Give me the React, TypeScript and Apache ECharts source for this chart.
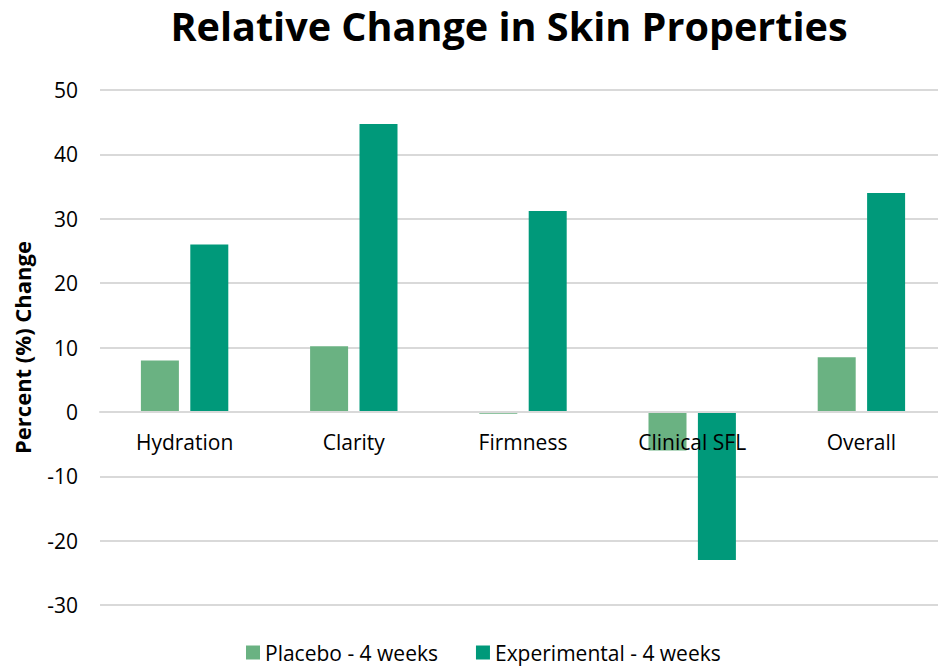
import React, { useEffect, useRef } from "react";
import * as echarts from "echarts";

const categories = ["Hydration", "Clarity", "Firmness", "Clinical SFL", "Overall"];
const placebo = [8.0, 10.2, -0.3, -6.0, 8.5];
const experimental = [26.0, 44.7, 31.2, -23.0, 34.0];
const seriesNames = ["Placebo - 4 weeks", "Experimental - 4 weeks"];
const yMin = -30;
const yMax = 50;

export default function App() {
  const ref = useRef<HTMLDivElement>(null);
  useEffect(() => {
    const chart = echarts.init(ref.current!, null, { renderer: "svg" });
    const font = "'Open Sans', 'Noto Sans', sans-serif";
    const gridTop = 90;
    const gridBottom = 62;
    const plotH = 667 - gridTop - gridBottom;
    const zeroOffset = -Math.round((plotH * (0 - yMin)) / (yMax - yMin));
    chart.setOption({
      animation: false,
      backgroundColor: "#ffffff",
      title: {
        text: "Relative Change in Skin Properties",
        left: 504,
        textAlign: "center",
        top: 1,
        textStyle: { fontFamily: font, fontSize: 39.6, fontWeight: "bold", color: "#000000" },
      },
      legend: {
        top: 637,
        left: 241,
        padding: 5,
        itemWidth: 14,
        itemHeight: 14,
        itemGap: 38,
        icon: "rect",
        textStyle: { fontFamily: font, fontSize: 21, lineHeight: 20, color: "#000000" },
        data: seriesNames,
      },
      grid: { left: 100, right: 0, top: gridTop, bottom: gridBottom, containLabel: false, outerBoundsMode: "none" },
      xAxis: {
        type: "category",
        data: categories,
        position: "bottom",
        offset: zeroOffset,
        axisTick: { show: false },
        axisLine: { show: true, onZero: false, lineStyle: { color: "#d9d9d9", width: 2 } },
        axisLabel: { fontFamily: font, fontSize: 21, color: "#000000", margin: 19 },
        z: 10,
      },
      yAxis: {
        type: "value",
        min: yMin,
        max: yMax,
        interval: 10,
        name: "Percent (%) Change",
        nameLocation: "middle",
        nameGap: 67,
        nameTextStyle: { fontFamily: font, fontSize: 22, fontWeight: "bold", color: "#000000" },
        axisLine: { show: false },
        axisTick: { show: false },
        axisLabel: { fontFamily: font, fontSize: 21, color: "#000000", margin: 22 },
        splitLine: { lineStyle: { color: "#d9d9d9", width: 2 } },
      },
      series: [
        {
          name: seriesNames[0],
          type: "bar",
          data: placebo,
          barWidth: 38,
          barGap: "30%",
          itemStyle: { color: "#6ab282" },
          z: 2,
        },
        {
          name: seriesNames[1],
          type: "bar",
          data: experimental,
          barWidth: 38,
          barGap: "30%",
          itemStyle: { color: "#00997a" },
          z: 2,
        },
      ],
    });
    return () => chart.dispose();
  }, []);
  return <div ref={ref} style={{ width: 946, height: 667, marginLeft: -8, marginTop: -8 }} />;
}
